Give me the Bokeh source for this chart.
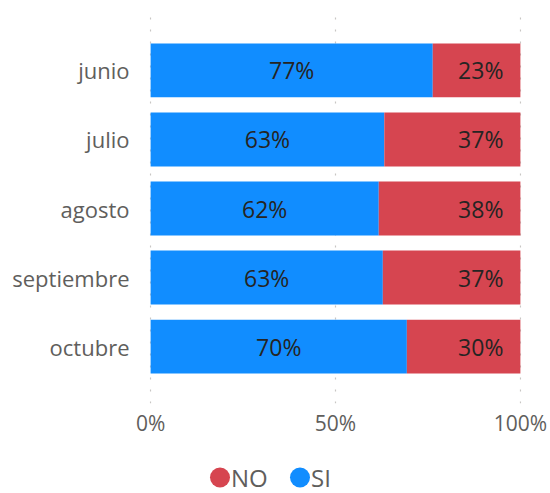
from bokeh.plotting import figure
from bokeh.layouts import column
from bokeh.models import (FactorRange, Range1d, FixedTicker, PrintfTickFormatter,
                          ColumnDataSource)
from bokeh.core.properties import value
from bokeh.embed import file_html
from bokeh.resources import INLINE

months = ["junio", "julio", "agosto", "septiembre", "octubre"]
si_pct = [76.3, 63.2, 61.7, 62.8, 69.3]
no_pct = [23.7, 36.8, 38.3, 37.2, 30.7]
si_labels = ["77%", "63%", "62%", "63%", "70%"]
no_labels = ["23%", "37%", "38%", "37%", "30%"]
x_ticks = [0, 50, 100]
series_names = ["NO", "SI"]

BLUE = "#118DFF"
RED = "#D64550"
series_colors = [RED, BLUE]
FONT = "Open Sans"
W = 549
FL, FR = 149, 521   # frame left / right in pixels

src = ColumnDataSource(dict(
    month=months,
    si_end=si_pct,
    no_end=[s + n for s, n in zip(si_pct, no_pct)],
    si_mid=[s / 2 for s in si_pct],
    si_lab=si_labels,
    no_lab=no_labels,
))

p = figure(width=W, height=441, output_backend="svg", toolbar_location=None,
           y_range=FactorRange(factors=months[::-1], range_padding=0.13),
           x_range=Range1d(-0.3, 100.3),
           min_border_left=FL, min_border_right=W - FR, min_border_top=13,
           min_border_bottom=38)
p.outline_line_color = None

p.hbar(y="month", left=0, right="si_end", height=0.78, source=src,
       fill_color=BLUE, line_color=None)
p.hbar(y="month", left="si_end", right="no_end", height=0.78, source=src,
       fill_color=RED, line_color=None)

p.text(x="si_mid", y="month", text="si_lab", source=src, text_align="center",
       text_baseline="middle", text_font=value(FONT), text_font_size="23px",
       text_color="#252423")
p.text(x="no_end", y="month", text="no_lab", source=src, text_align="right",
       text_baseline="middle", x_offset=-17, text_font=value(FONT),
       text_font_size="23px", text_color="#252423")

p.xaxis.ticker = FixedTicker(ticks=x_ticks)
p.xaxis.formatter = PrintfTickFormatter(format="%d%%")
for ax in (p.xaxis, p.yaxis):
    ax.axis_line_color = None
    ax.major_tick_line_color = None
    ax.minor_tick_line_color = None
    ax.major_tick_out = 0
    ax.major_tick_in = 0
    ax.minor_tick_out = 0
    ax.major_label_text_font = FONT
    ax.major_label_text_color = "#605E5C"
p.xaxis.major_label_text_font_size = "21px"
p.yaxis.major_label_text_font_size = "22px"
p.xaxis.major_label_standoff = 5
p.yaxis.major_label_standoff = 20

p.ygrid.grid_line_color = None
p.xgrid.grid_line_color = "#C8C6C4"
p.xgrid.grid_line_dash = "2 10"
p.xgrid.grid_line_width = 1.2

# legend strip: ranges in page pixels, frame aligned with the main plot's frame
LH = 52
lg = figure(width=W, height=LH, output_backend="svg", toolbar_location=None,
            x_axis_type=None, y_axis_type=None,
            min_border_left=FL, min_border_right=W - FR,
            min_border_top=0, min_border_bottom=0,
            x_range=Range1d(FL, FR), y_range=Range1d(0, LH))
lg.outline_line_color = None
lg.grid.visible = False
legend_x = [219.5, 299.5]     # layout: swatch centres (page px)
legend_y = 16                 # layout: row centre from strip bottom
leg = ColumnDataSource(dict(
    sx=legend_x,
    tx=[x + 11 for x in legend_x],
    sy=[legend_y] * len(series_names),
    name=series_names,
    color=series_colors,
))
lg.scatter(x="sx", y="sy", source=leg, marker="circle", size=20,
           fill_color="color", line_color=None)
lg.text(x="tx", y="sy", text="name", source=leg, text_align="left",
        text_baseline="middle", text_font=value(FONT), text_font_size="24px",
        text_color="#605E5C")

layout = column(p, lg, spacing=0)
open("out.html", "w").write(file_html(layout, INLINE))
